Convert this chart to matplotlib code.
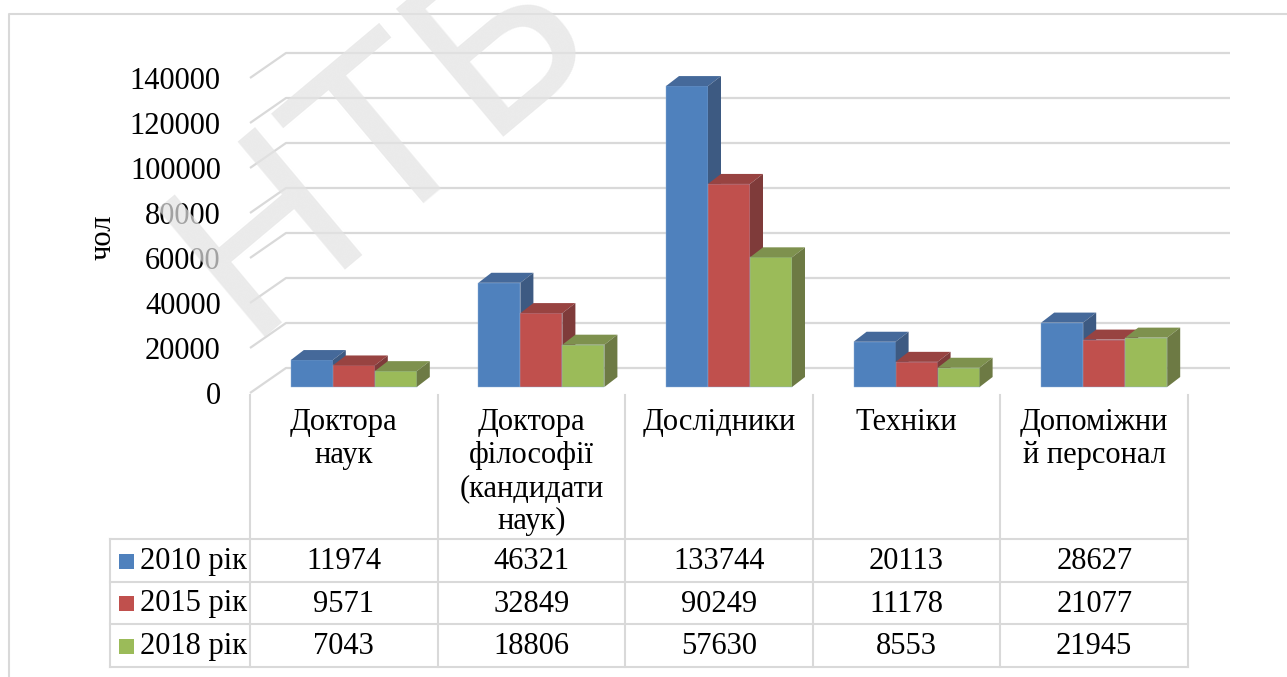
import numpy as np
import matplotlib.pyplot as plt
from matplotlib.patches import Polygon, Rectangle

plt.rcParams['font.family'] = ['Liberation Serif', 'DejaVu Serif']

categories = ["Доктора\nнаук", "Доктора\nфілософії\n(кандидати\nнаук)", "Дослідники",
              "Техніки", "Допоміжни\nй персонал"]
series = ["2010 рік", "2015 рік", "2018 рік"]
v2010 = [11974, 46321, 133744, 20113, 28627]
v2015 = [9571, 32849, 90249, 11178, 21077]
v2018 = [7043, 18806, 57630, 8553, 21945]
values = [v2010, v2015, v2018]
yticks = [0, 20000, 40000, 60000, 80000, 100000, 120000, 140000]

front_c = ["#4F81BD", "#C0504D", "#9BBB59"]
top_c = ["#45699A", "#984341", "#7E914E"]
side_c = ["#3D5A82", "#7F3B3A", "#6D7A44"]
grid_c = "#d9d9d9"

W, H = 1287, 677
fig = plt.figure(figsize=(W / 100, H / 100), dpi=100)

# background axes in pixels (layout only)
bg = fig.add_axes([0, 0, 1, 1])
bg.set_xlim(0, W)
bg.set_ylim(H, 0)
bg.axis('off')

# outer frame
bg.plot([9, 9, W], [H, 14, 14], color=grid_c, lw=1.5)

# chart axes: front plane, x = category, y = people
x0, x1 = 250, 1188
y0 = 393
kpx = 315 / 140000
ymax = 160000
ux = (x1 - x0) / len(categories)
ax = fig.add_axes([x0 / W, 1 - y0 / H, (x1 - x0) / W, ymax * kpx / H])
ax.set_xlim(-0.5, len(categories) - 0.5)
ax.set_ylim(0, ymax)
ax.patch.set_alpha(0)
for s in ax.spines.values():
    s.set_visible(False)
ax.set_xticks([])
ax.set_yticks(yticks)
ax.set_yticklabels([str(v) for v in yticks])
ax.tick_params(axis='y', length=0, pad=21, labelsize=22)

# walls: side wall diagonal + back wall gridlines
wall_dx = 36 / ux
wall_dy = 25 / kpx
back_right = (1230 - x0) / ux - 0.5
for v in yticks:
    ax.plot([-0.5, -0.5 + wall_dx, back_right], [v, v + wall_dy, v + wall_dy],
            color=grid_c, lw=1.6, zorder=1, clip_on=False, solid_capstyle='butt')

# 3d bars
bw = 42 / ux
sx = 10 / ux
sy = 6 / kpx
ddx = 13 / ux
ddy = 10 / kpx
for i in range(len(categories)):
    for j, vals in enumerate(values):
        v = vals[i]
        z = 3 + i * 10 + j * 3
        xc = i + (j - 1) * bw + sx
        xl = xc - bw / 2
        ax.bar(xc, v, width=bw, bottom=sy, color=front_c[j], edgecolor='#8fb0d8',
               linewidth=0.3, zorder=z, clip_on=False)
        ax.add_patch(Polygon([(xl, sy + v), (xl + bw, sy + v), (xl + bw + ddx, sy + v + ddy),
                              (xl + ddx, sy + v + ddy)], closed=True, facecolor=top_c[j],
                             edgecolor='none', zorder=z, clip_on=False))
        ax.add_patch(Polygon([(xl + bw, sy), (xl + bw + ddx, sy + ddy), (xl + bw + ddx, sy + v + ddy),
                              (xl + bw, sy + v)], closed=True, facecolor=side_c[j],
                             edgecolor='none', zorder=z, clip_on=False))

# axis title
bg.text(103, 237, "чол", rotation=90, ha='center', va='center', fontsize=22)

# data table
col_x = x0 + ux * np.arange(len(categories) + 1)
row_y = [539, 582, 624, 667]
leg_left = 110
for cx in col_x:
    bg.plot([cx, cx], [395, row_y[-1]], color=grid_c, lw=1.5)
for ry in row_y:
    bg.plot([leg_left, col_x[-1]], [ry, ry], color=grid_c, lw=1.5)
bg.plot([leg_left, leg_left], [row_y[0], row_y[-1]], color=grid_c, lw=1.5)

for i, cat in enumerate(categories):
    bg.text((col_x[i] + col_x[i + 1]) / 2, 408, cat, ha='center', va='top',
            fontsize=22, linespacing=1.18)

for j, name in enumerate(series):
    yc = (row_y[j] + row_y[j + 1]) / 2 + 1
    bg.add_patch(Rectangle((119, yc - 8), 15, 15, facecolor=front_c[j], edgecolor='none'))
    bg.text(140, yc, name, ha='left', va='center', fontsize=22)
    for i in range(len(categories)):
        bg.text((col_x[i] + col_x[i + 1]) / 2, yc, str(values[j][i]), ha='center',
                va='center', fontsize=22)

# watermark
fig.text(382 / W, 1 - 138 / H, "НТБ", rotation=40, fontsize=165, color='#e3e3e3', alpha=0.72,
         ha='center', va='center', family='DejaVu Sans', zorder=10)

fig.savefig("out.png", dpi=100)
